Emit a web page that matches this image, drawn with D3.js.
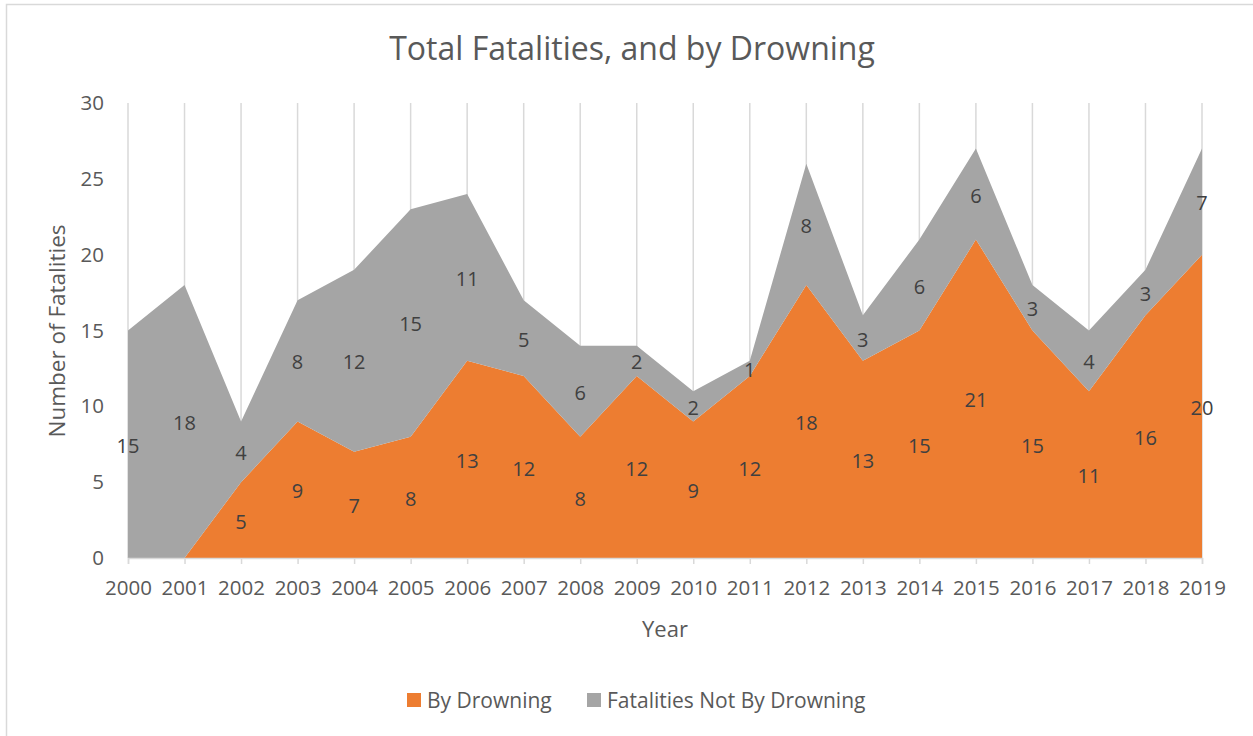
<!DOCTYPE html>
<html>
<head>
<meta charset="utf-8">
<script src="https://cdn.jsdelivr.net/npm/d3@7"></script>
<style>
  html, body { margin: 0; padding: 0; background: #fff; }
  svg text { font-family: "Open Sans", "Liberation Sans", sans-serif; fill: #595959; }
</style>
</head>
<body>
<svg id="chart" width="1253" height="736"></svg>
<script>
// Yearly fatality counts, split into drowning and non-drowning
const years = ["2000","2001","2002","2003","2004","2005","2006","2007","2008","2009",
               "2010","2011","2012","2013","2014","2015","2016","2017","2018","2019"];
const byDrowning = [0,0,5,9,7,8,13,12,8,12,9,12,18,13,15,21,15,11,16,20];
const notByDrowning = [15,18,4,8,12,15,11,5,6,2,2,1,8,3,6,6,3,4,3,7];
const yTicks = [0,5,10,15,20,25,30];
const seriesNames = ["By Drowning", "Fatalities Not By Drowning"];
const seriesColors = ["#ED7D31", "#A5A5A5"];

const svg = d3.select("#chart");
const W = 1253, H = 736;
const plot = { left: 128, right: 1202, top: 103, bottom: 558 };

// Chart frame
svg.append("rect")
  .attr("x", 6.5).attr("y", 4.5)
  .attr("width", W + 20).attr("height", H + 20)
  .attr("fill", "#fff").attr("stroke", "#d9d9d9").attr("stroke-width", 1.5);

const x = d3.scalePoint().domain(years).range([plot.left, plot.right]);
const y = d3.scaleLinear().domain([0, 30]).range([plot.bottom, plot.top]);

// Vertical gridlines at each year
svg.append("g").selectAll("line").data(years).join("line")
  .attr("x1", d => x(d)).attr("x2", d => x(d))
  .attr("y1", y(30)).attr("y2", y(0))
  .attr("stroke", "#d9d9d9").attr("stroke-width", 1.5);

// Stacked areas
const rows = years.map((yr, i) => ({ year: yr, a: byDrowning[i], b: notByDrowning[i] }));
const stack = d3.stack().keys(["a", "b"]);
const layers = stack(rows);
const area = d3.area()
  .x(d => x(d.data.year))
  .y0(d => y(d[0]))
  .y1(d => y(d[1]));
svg.append("g").selectAll("path").data(layers).join("path")
  .attr("d", area)
  .attr("fill", (d, i) => seriesColors[i]);

// X axis line and ticks
const xAxis = d3.axisBottom(x).tickSize(6).tickPadding(14);
const gx = svg.append("g").attr("transform", `translate(0,${plot.bottom})`).call(xAxis);
gx.select(".domain").attr("stroke", "#d9d9d9").attr("stroke-width", 1.5);
gx.selectAll(".tick line").attr("stroke", "#d9d9d9").attr("stroke-width", 1.5);
gx.selectAll(".tick text").attr("font-size", 20.5).attr("dy", "0.85em")
  .style("font-family", "'Open Sans', sans-serif").attr("fill", "#595959");

// Y axis labels (no line)
const yAxis = d3.axisLeft(y).tickValues(yTicks).tickSize(0).tickPadding(0);
const gy = svg.append("g").attr("transform", `translate(${plot.left - 24},0)`).call(yAxis);
gy.select(".domain").remove();
gy.selectAll(".tick text").attr("font-size", 20.5)
  .style("font-family", "'Open Sans', sans-serif").attr("fill", "#595959");

// Data labels at the middle of each band
layers.forEach((layer) => {
  svg.append("g").selectAll("text")
    .data(layer.filter(d => d[1] - d[0] > 0))
    .join("text")
    .attr("x", d => x(d.data.year))
    .attr("y", d => y((d[0] + d[1]) / 2) + 1)
    .attr("text-anchor", "middle")
    .attr("dominant-baseline", "central")
    .attr("font-size", 20)
    .style("fill", "#404040")
    .text(d => d[1] - d[0]);
});

// Title
svg.append("text")
  .attr("x", 632).attr("y", 60)
  .attr("text-anchor", "middle")
  .attr("font-size", 32)
  .text("Total Fatalities, and by Drowning");

// Axis titles
svg.append("text")
  .attr("x", 665).attr("y", 637)
  .attr("text-anchor", "middle")
  .attr("font-size", 22)
  .text("Year");
svg.append("text")
  .attr("transform", `translate(65,331) rotate(-90)`)
  .attr("text-anchor", "middle")
  .attr("font-size", 22.5)
  .text("Number of Fatalities");

// Legend
const legendItems = [{ x: 407 }, { x: 587 }];
const lg = svg.append("g");
seriesNames.forEach((name, i) => {
  lg.append("rect")
    .attr("x", legendItems[i].x).attr("y", 693)
    .attr("width", 14).attr("height", 14)
    .attr("fill", seriesColors[i]);
  lg.append("text")
    .attr("x", legendItems[i].x + 20).attr("y", 700)
    .attr("dominant-baseline", "central")
    .attr("font-size", 21)
    .text(name);
});
</script>
</body>
</html>
